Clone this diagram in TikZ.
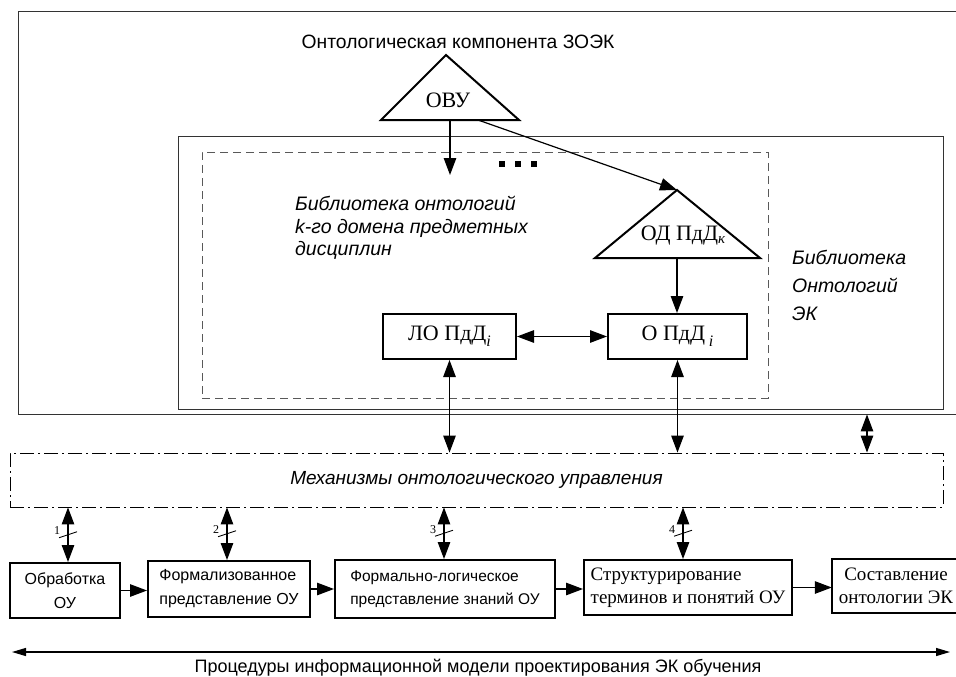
\documentclass[tikz,border=0pt]{standalone}
\usepackage{fontspec}
\setmainfont{Liberation Serif}
\newfontfamily\sfn{Liberation Sans}
\usetikzlibrary{arrows.meta,calc}

\begin{document}
\begin{tikzpicture}[x=1pt,y=-1pt,
  >={Triangle[length=17pt,width=12.5pt]},
  conn/.style={line width=1.2pt},
  thinframe/.style={draw=black!80, line width=0.9pt, inner sep=0pt},
  blk/.style={draw, line width=2pt, inner sep=2pt},
  tri/.style={draw, line width=2pt, line join=miter},
  sertxt/.style={font=\fontsize{22}{26}\selectfont, inner sep=0pt},
  sanstxt/.style={font=\sfn\fontsize{19.3}{22}\selectfont, inner sep=0pt},
  itxt/.style={font=\sfn\itshape\fontsize{19.5}{22}\selectfont, inner sep=0pt, align=left},
  boxsans/.style={font=\sfn\fontsize{16}{24}\selectfont},
  boxserif/.style={font=\fontsize{19}{23}\selectfont},
  numlbl/.style={font=\fontsize{12}{12}\selectfont, inner sep=0pt},
  slash/.style={line width=0.9pt}
]
\useasboundingbox (0,0) rectangle (956,677);
\clip (0,0) rectangle (956,677);
\fill[white] (0,0) rectangle (956,677);

% ---- ontological component frames ----
\node[thinframe, minimum width=958pt, minimum height=403pt] (zoek) at (497,212.5) {};
\node[sanstxt] (zoek-title) at (458,42) {Онтологическая компонента ЗОЭК};

\node[thinframe, minimum width=765pt, minimum height=273pt] (libek) at (560.5,272.5) {};
\node[draw=black!65, line width=0.9pt, dash pattern=on 8pt off 5pt, inner sep=0pt,
      minimum width=566pt, minimum height=246pt] (libk) at (485,275) {};

\node[itxt, anchor=west, font=\sfn\itshape\fontsize{19.5}{22.5}\selectfont] (libk-title) at (295,228)
  {Библиотека онтологий\\k-го домена предметных\\дисциплин};
\node[itxt, anchor=west, font=\sfn\itshape\fontsize{19.5}{28}\selectfont] (libek-title) at (792,285)
  {Библиотека\\Онтологий\\ЭК};

% ---- top-level ontology triangle ----
\coordinate (ovu-top) at (446,55);
\coordinate (ovu-l) at (381,120);
\coordinate (ovu-r) at (519,120);
\draw[tri] (ovu-l) -- (ovu-top) -- (ovu-r) -- cycle;
\node[sertxt] (ovu) at (448,100) {ОВУ};

% ---- domain ontology triangle ----
\coordinate (odk-top) at (677,190);
\coordinate (odk-l) at (595,258);
\coordinate (odk-r) at (760,258);
\draw[tri] (odk-l) -- (odk-top) -- (odk-r) -- cycle;
\node[sertxt] (odk) at (683,236) {ОД ПдД\raisebox{-3pt}{\fontsize{15}{15}\selectfont\textit{к}}};

% ---- discipline ontologies ----
\node[blk, sertxt, minimum width=133pt, minimum height=45pt] (lopdd) at (449.5,336.5)
  {ЛО ПдД\raisebox{-6pt}{\fontsize{16}{16}\selectfont\textit{i}}};
\node[blk, sertxt, minimum width=139pt, minimum height=45pt] (opdd) at (677.5,336.5)
  {О ПдД\,\raisebox{-6pt}{\fontsize{16}{16}\selectfont\textit{i}}};

% ---- arrows inside the component ----
\coordinate (ovu-o1) at (450,120);
\coordinate (ovu-end) at (450,175);
\coordinate (ovu-o2) at (478,120);
\coordinate (odk-bot) at (677,258);
\draw[conn,->] (ovu-o1) -- (ovu-end);
\draw[conn,->] (ovu-o2) -- (odk-top);
\draw[conn,->] (odk-bot) -- (opdd.north -| odk-bot);
\draw[conn,<->] (lopdd) -- (opdd);

% ellipsis marks
\foreach \i/\xx in {1/502,2/518,3/534}
  \fill (\xx-2.6,161.4) rectangle (\xx+2.6,166.6);

% ---- ontology management mechanisms ----
\node[draw, line width=0.9pt, dash pattern=on 14pt off 4pt on 2pt off 4pt,
      minimum width=933pt, minimum height=54pt, inner sep=0pt,
      font=\sfn\itshape\fontsize{19}{22}\selectfont] (mech) at (476.5,480)
  {Механизмы онтологического управления};

\draw[conn,<->] (lopdd.south) -- (lopdd.south |- mech.north);
\draw[conn,<->] (opdd.south) -- (opdd.south |- mech.north);
\coordinate (xr) at (867,0);
\draw[conn,<->] (zoek.south -| xr) -- (mech.north -| xr);

% ---- design procedure blocks ----
\node[blk, boxsans, align=center, minimum width=110pt, minimum height=55pt] (b1) at (65,590.5)
  {Обработка\\ОУ};
\node[blk, boxsans, align=left, minimum width=162pt, minimum height=56pt] (b2) at (229,589)
  {Формализованное\\представление ОУ};
\node[blk, font=\sfn\fontsize{15.5}{23}\selectfont, align=left, minimum width=220pt, minimum height=58pt] (b3) at (445,589)
  {Формально-логическое\\представление знаний ОУ};
\node[blk, boxserif, align=left, minimum width=208pt, minimum height=55pt] (b4) at (688,587.5)
  {Структурирование\\терминов и понятий ОУ};
% last block runs past the right edge of the sheet: only three sides are drawn
\node[boxserif, align=center, minimum width=150pt, minimum height=54pt, inner sep=0pt] (b5) at (907,586) {};
\draw[line width=2pt] (b5.north east) -- (b5.north west) -- (b5.south west) -- (b5.south east);
\node[boxserif, align=center] (b5-txt) at (896,586) {Составление\\онтологии ЭК};

\draw[conn,->] (b1.east) -- (b1.east -| b2.west);
\draw[conn,->] (b2.east) -- (b2.east -| b3.west);
\draw[conn,->] (b3.east) -- (b3.east -| b4.west);
\draw[conn,->] (b4.east) -- (b4.east -| b5.west);

% ---- numbered links between mechanisms and blocks ----
\coordinate (x1) at (68,0);
\coordinate (x2) at (227,0);
\coordinate (x3) at (444,0);
\coordinate (x4) at (683,0);
\foreach \k/\b in {1/b1,2/b2,3/b3,4/b4}{
  \draw[conn,<->] (mech.south -| x\k) -- (\b.north -| x\k);
  \coordinate (m\k) at ($(mech.south -| x\k)!0.5!(\b.north -| x\k)$);
  \draw[slash] ($(m\k)+(-9,3)$) -- ($(m\k)+(9,-3)$);
  \node[numlbl] (n\k) at ($(m\k)+(-11,-4)$) {\k};
}

% ---- procedures axis ----
\coordinate (pl) at (12,652);
\coordinate (pr) at (950,652);
\draw[conn,{Triangle[length=14pt,width=8pt]}-{Triangle[length=14pt,width=8pt]}] (pl) -- (pr);
\node[sanstxt, font=\sfn\fontsize{18}{22}\selectfont] (proc) at (478,668) {Процедуры информационной модели проектирования ЭК обучения};
\end{tikzpicture}
\end{document}
